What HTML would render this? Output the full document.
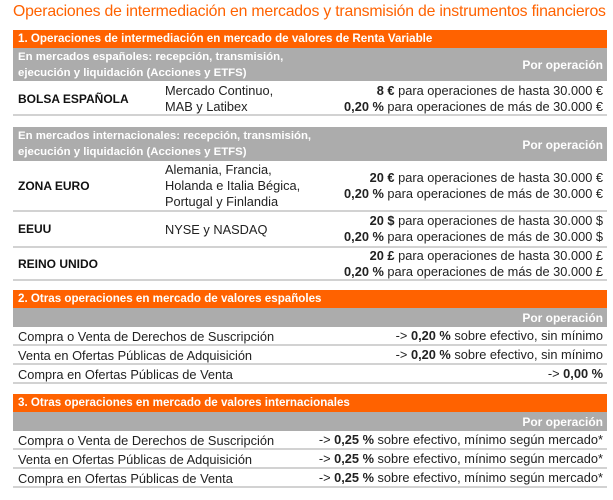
<!DOCTYPE html>
<html><head><meta charset="utf-8"><style>
body{margin:0;width:613px;height:500px;background:#fff;font-family:"Liberation Sans",sans-serif;position:relative;overflow:hidden;color:#222}
div{position:absolute;box-sizing:border-box}
.t{left:13px;top:3px;font-size:15.8px;color:#ff6200;white-space:nowrap;letter-spacing:-0.2px}
.or{left:13px;width:594px;height:18px;background:#ff6200;color:#fff;font-size:11.6px;font-weight:bold;padding-left:5px;line-height:18px;white-space:nowrap}
.gr{left:13px;width:594px;background:#acacac;color:#fff;font-size:11.4px;font-weight:bold;}
.gr .l{left:5px;line-height:16px}
.gr .r{right:4px;font-size:12px}
.row{left:13px;width:594px;border-bottom:2px solid #d2d2d2;font-size:12.8px}
.row .a{left:5px}
.row .b{left:152px;line-height:16px}
.row .c{right:4px;text-align:right;line-height:16px;white-space:nowrap}
b{font-weight:bold}
.k{font-weight:bold;color:#111;font-size:12px}
</style></head><body>
<div class="t">Operaciones de intermediación en mercados y transmisión de instrumentos financieros</div>

<div class="or" style="top:30px">1. Operaciones de intermediación en mercado de valores de Renta Variable</div>
<div class="gr" style="top:48px;height:33px"><div class="l" style="top:1px">En mercados españoles: recepción, transmisión,<br>ejecución y liquidación (Acciones y ETFS)</div><div class="r" style="top:10px">Por operación</div></div>
<div class="row" style="top:81px;height:35px"><div class="a k" style="top:11px">BOLSA ESPAÑOLA</div><div class="b" style="top:2px">Mercado Continuo,<br>MAB y Latibex</div><div class="c" style="top:2px"><b>8 €</b> para operaciones de hasta 30.000 €<br><b>0,20 %</b> para operaciones de más de 30.000 €</div></div>

<div class="gr" style="top:127px;height:34px"><div class="l" style="top:1px">En mercados internacionales: recepción, transmisión,<br>ejecución y liquidación (Acciones y ETFS)</div><div class="r" style="top:11px">Por operación</div></div>
<div class="row" style="top:161px;height:51px"><div class="a k" style="top:18px">ZONA EURO</div><div class="b" style="top:1px">Alemania, Francia,<br>Holanda e Italia Bégica,<br>Portugal y Finlandia</div><div class="c" style="top:9px"><b>20 €</b> para operaciones de hasta 30.000 €<br><b>0,20 %</b> para operaciones de más de 30.000 €</div></div>
<div class="row" style="top:212px;height:36px"><div class="a k" style="top:10px">EEUU</div><div class="b" style="top:10px">NYSE y NASDAQ</div><div class="c" style="top:1px"><b>20 $</b> para operaciones de hasta 30.000 $<br><b>0,20 %</b> para operaciones de más de 30.000 $</div></div>
<div class="row" style="top:248px;height:33px"><div class="a k" style="top:9px">REINO UNIDO</div><div class="c" style="top:0px"><b>20 £</b> para operaciones de hasta 30.000 £<br><b>0,20 %</b> para operaciones de más de 30.000 £</div></div>

<div class="or" style="top:290px">2. Otras operaciones en mercado de valores españoles</div>
<div class="gr" style="top:308px;height:19px"><div class="r" style="top:3px">Por operación</div></div>
<div class="row" style="top:327px;height:19px"><div class="a" style="top:2px">Compra o Venta de Derechos de Suscripción</div><div class="c" style="top:1px">-&gt; <b>0,20 %</b> sobre efectivo, sin mínimo</div></div>
<div class="row" style="top:346px;height:19px"><div class="a" style="top:2px">Venta en Ofertas Públicas de Adquisición</div><div class="c" style="top:1px">-&gt; <b>0,20 %</b> sobre efectivo, sin mínimo</div></div>
<div class="row" style="top:365px;height:19px"><div class="a" style="top:2px">Compra en Ofertas Públicas de Venta</div><div class="c" style="top:1px">-&gt; <b>0,00 %</b></div></div>

<div class="or" style="top:394px">3. Otras operaciones en mercado de valores internacionales</div>
<div class="gr" style="top:412px;height:19px"><div class="r" style="top:3px">Por operación</div></div>
<div class="row" style="top:431px;height:19px"><div class="a" style="top:2px">Compra o Venta de Derechos de Suscripción</div><div class="c" style="top:1px">-&gt; <b>0,25 %</b> sobre efectivo, mínimo según mercado*</div></div>
<div class="row" style="top:450px;height:19px"><div class="a" style="top:2px">Venta en Ofertas Públicas de Adquisición</div><div class="c" style="top:1px">-&gt; <b>0,25 %</b> sobre efectivo, mínimo según mercado*</div></div>
<div class="row" style="top:469px;height:19px"><div class="a" style="top:2px">Compra en Ofertas Públicas de Venta</div><div class="c" style="top:1px">-&gt; <b>0,25 %</b> sobre efectivo, mínimo según mercado*</div></div>
</body></html>
